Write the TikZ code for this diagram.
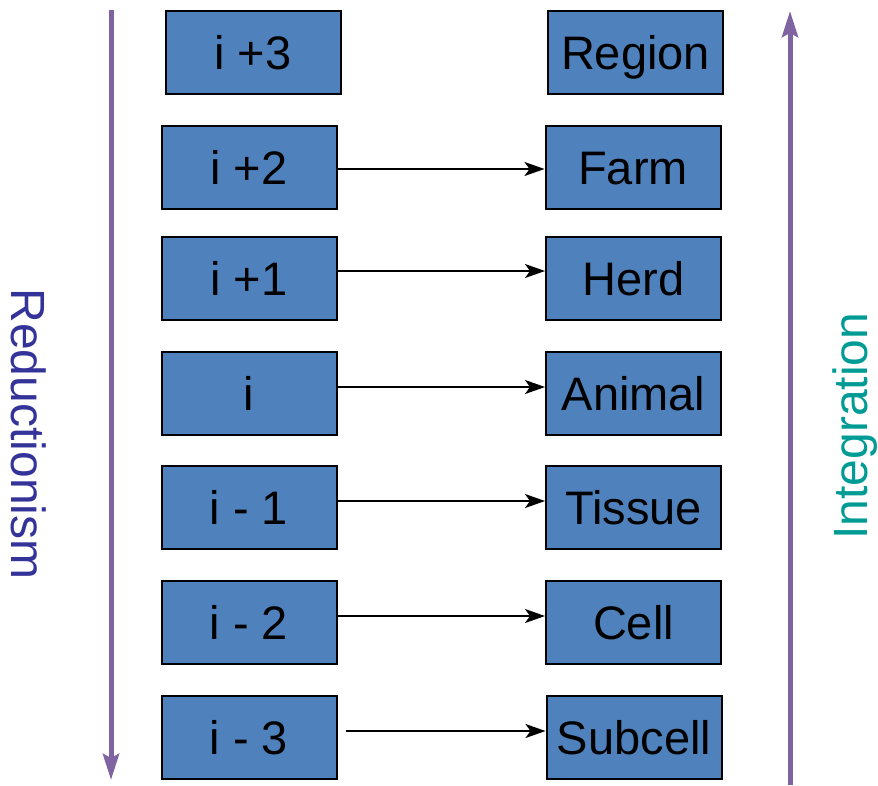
\documentclass[tikz,border=0pt]{standalone}
\usepackage{fontspec}
\setmainfont{Liberation Sans}
\usetikzlibrary{arrows.meta}
\definecolor{boxblue}{HTML}{4F81BD}
\definecolor{axispurple}{HTML}{8064A2}
\definecolor{redblue}{HTML}{333399}
\definecolor{intteal}{HTML}{009B95}
\tikzset{
  level/.style={draw=black, line width=2pt, fill=boxblue, minimum width=175pt,
    minimum height=83pt, inner sep=0pt, text height=34pt, text depth=0pt,
    font=\fontsize{47}{50}\selectfont},
  link/.style={line width=1.6pt, -{Stealth[length=20pt,width=14pt,inset=5pt]}},
  axis/.style={draw=axispurple, line width=5pt,
    -{Stealth[length=26pt,width=16pt,inset=4pt]}},
  axislabel/.style={font=\fontsize{48}{50}\selectfont, inner sep=0pt}
}
\begin{document}
\begin{tikzpicture}[x=1pt,y=-1pt]
\useasboundingbox (0,0) rectangle (878,785);
% left column: level indices
\node[level] (L3) at (253,52.5) {i +3};
\node[level] (L2) at (249,167.5) {i +2};
\node[level] (L1) at (249,278.5) {i +1};
\node[level] (L0) at (249,393.5) {i};
\node[level] (Lm1) at (249,507.5) {i - 1};
\node[level] (Lm2) at (249,622.5) {i - 2};
\node[level] (Lm3) at (249,737) {i - 3};
% right column: organisation levels
\node[level] (R3) at (635.5,52.5) {Region};
\node[level] (R2) at (633,167.5) {Farm};
\node[level] (R1) at (633.5,278.5) {Herd};
\node[level] (R0) at (633.5,393.5) {Animal};
\node[level] (Rm1) at (633.5,507.5) {Tissue};
\node[level] (Rm2) at (633.5,622.5) {Cell};
\node[level] (Rm3) at (634,737) {Subcell};
% level correspondences
\draw[link] (L2.east |- 0,169) -- (R2.west |- 0,169);
\draw[link] (L1.east |- 0,271) -- (R1.west |- 0,271);
\draw[link] (L0.east |- 0,387) -- (R0.west |- 0,387);
\draw[link] (Lm1.east |- 0,501) -- (Rm1.west |- 0,501);
\draw[link] (Lm2.east |- 0,616) -- (Rm2.west |- 0,616);
\coordinate (s3) at (346,731);
\draw[link] (s3) -- (Rm3.west |- s3);
% direction axes
\coordinate (redtop) at (111,10);
\coordinate (redbot) at (111,780);
\coordinate (intbot) at (790,785);
\coordinate (inttop) at (790,11);
\draw[axis] (redtop) -- (redbot);
\draw[axis] (intbot) -- (inttop);
\node[axislabel, text=redblue, rotate=-90] (red) at (29,434) {Reductionism};
\node[axislabel, text=intteal, rotate=90] (int) at (855,426) {Integration};
\end{tikzpicture}
\end{document}
